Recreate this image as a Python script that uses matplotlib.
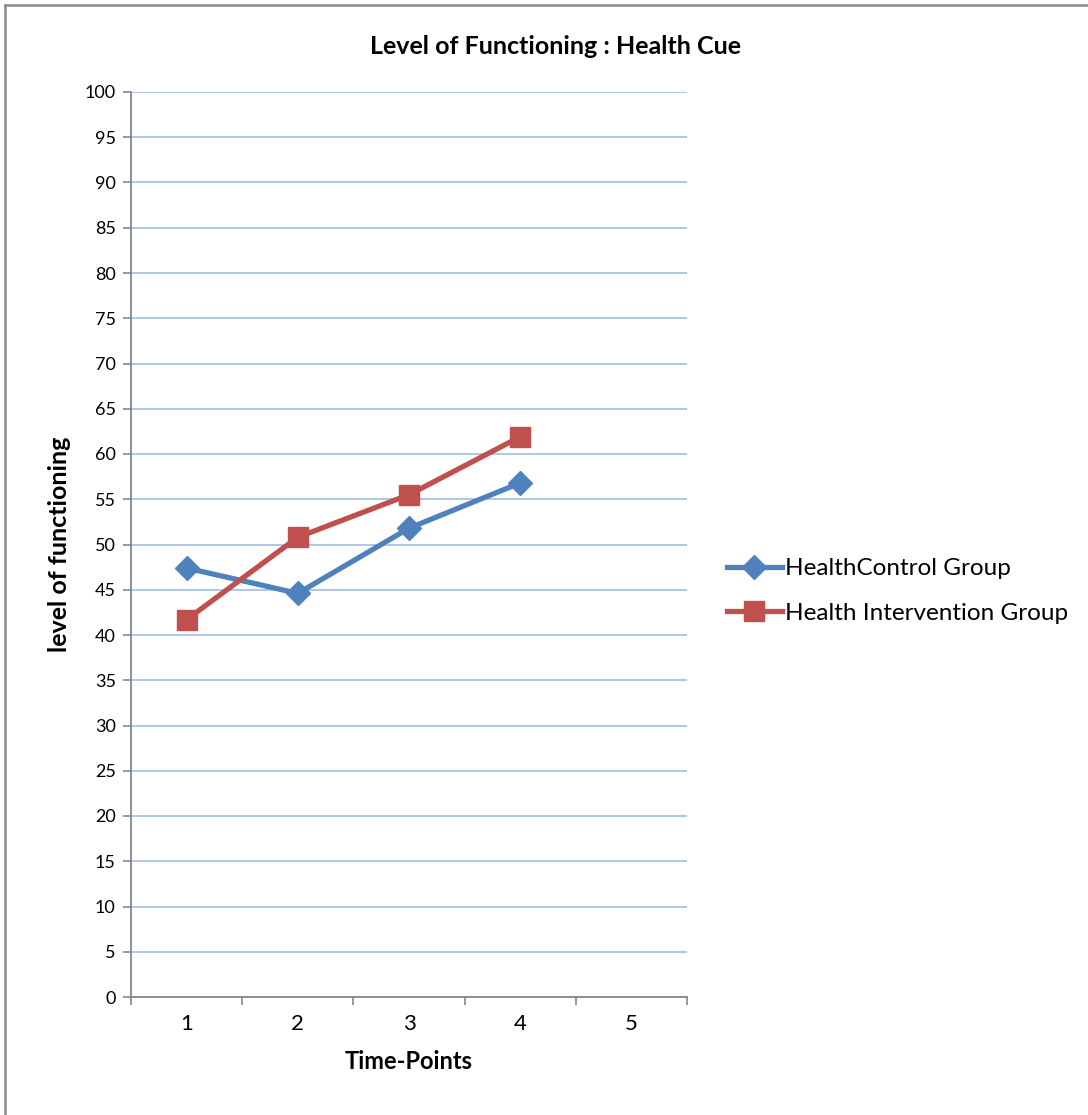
import matplotlib.pyplot as plt
from matplotlib.lines import Line2D
from matplotlib.ticker import MultipleLocator, FixedLocator, NullFormatter

plt.rcParams['font.family'] = ['Lato', 'DejaVu Sans']

time_points = [1, 2, 3, 4]
categories = ["1", "2", "3", "4", "5"]
control = [47.4, 44.6, 51.8, 56.8]
intervention = [41.7, 50.8, 55.5, 61.9]

blue = "#4F81BD"
red = "#C0504D"
grid_col = "#A9C1E6"
axis_col = "#868686"

fig = plt.figure(figsize=(10.88, 11.15), dpi=100)
ax = fig.add_axes([131/1088, 1-997/1115, 556/1088, 905/1115])

ax.plot(time_points, control, color=blue, lw=3.8, marker="D", ms=12,
        label="HealthControl Group", zorder=3)
ax.plot(time_points, intervention, color=red, lw=3.8, marker="s", ms=15,
        label="Health Intervention Group", zorder=3)

ax.set_xlim(0.5, len(categories) + 0.5)
ax.set_ylim(0, 100)
ax.yaxis.set_major_locator(MultipleLocator(5))
ax.grid(axis="y", color=grid_col, lw=1.3)
ax.set_axisbelow(True)

# category axis: ticks on boundaries, labels in the middle
ax.xaxis.set_major_locator(FixedLocator([i + 0.5 for i in range(len(categories) + 1)]))
ax.xaxis.set_major_formatter(NullFormatter())
ax.set_xticks(range(1, len(categories) + 1), categories, minor=True)
ax.tick_params(axis="x", which="minor", length=0, labelsize=16, pad=12)
ax.tick_params(axis="x", which="major", length=6, width=1.2, color=axis_col, direction="out")
ax.tick_params(axis="y", length=6, width=1.2, color=axis_col, labelsize=13, pad=5)

for s in ["top", "right"]:
    ax.spines[s].set_visible(False)
for s in ["left", "bottom"]:
    ax.spines[s].set_color(axis_col)
    ax.spines[s].set_linewidth(1.3)

ax.set_xlabel("Time-Points", fontsize=17, fontweight="bold", labelpad=12)
ax.set_ylabel("level of functioning", fontsize=18, fontweight="bold", labelpad=10)
fig.text(556/1088, 1-46/1115, "Level of Functioning : Health Cue", ha="center",
         va="center", fontsize=18, fontweight="bold")

fig.legend(loc="center left", bbox_to_anchor=(727/1088, 1-591/1115), frameon=False,
           fontsize=17.5, handlelength=2.25, handletextpad=0.12, labelspacing=0.95,
           borderpad=0, borderaxespad=0)

# outer frame (only left and top edges visible in the original)
fig.lines.append(Line2D([5/1088, 5/1088], [0, 1-5/1115], transform=fig.transFigure,
                        color="#8A8A8A", lw=1.8))
fig.lines.append(Line2D([5/1088, 1], [1-5/1115, 1-5/1115], transform=fig.transFigure,
                        color="#8A8A8A", lw=1.8))

fig.savefig("out.png", dpi=100)
